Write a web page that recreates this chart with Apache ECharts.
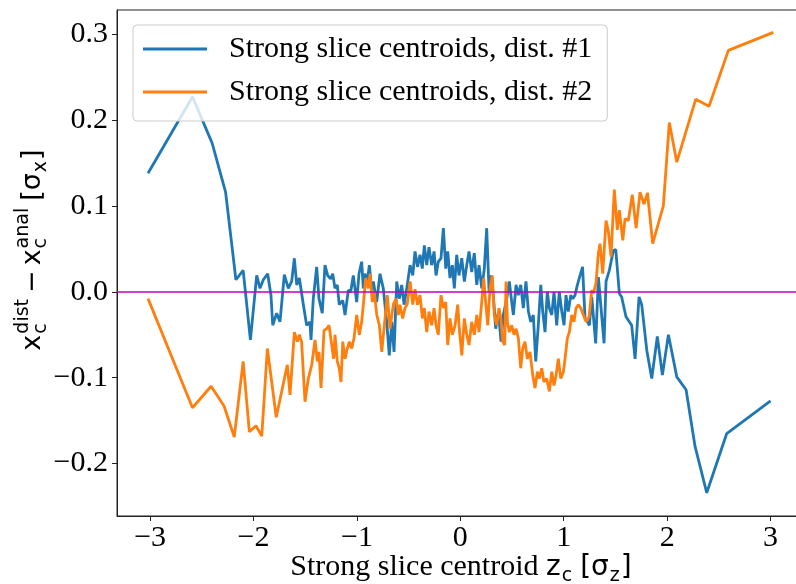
<!DOCTYPE html>
<html>
<head>
<meta charset="utf-8">
<script src="https://cdn.jsdelivr.net/npm/echarts@6/dist/echarts.min.js"></script>
<style>
  html, body { margin: 0; padding: 0; background: #fff; overflow: hidden; width: 796px; height: 584px; }
  /* the plot frame runs a few pixels past the right edge of the page, so the canvas is a little wider */
  #chart { position: absolute; left: 0; top: 0; width: 812px; height: 584px; }
</style>
</head>
<body>
<div id="chart"></div>
<script>
// Centroid offsets x_c^dist - x_c^anal (in sigma_x) against slice centroid z_c (in sigma_z)
const dist1Centroids = [
  [-3.02,0.138],[-2.59,0.227],[-2.40,0.173],[-2.27,0.116],[-2.17,0.014],[-2.10,0.025],[-2.03,-0.056],
  [-1.969,0.019],[-1.937,0.004],[-1.905,0.014],[-1.863,0.021],[-1.831,-0.004],[-1.814,-0.039],[-1.776,-0.025],
  [-1.744,-0.035],[-1.702,0.020],[-1.663,0.004],[-1.631,0.012],[-1.605,0.039],[-1.582,0.008],[-1.557,0.016],
  [-1.518,-0.015],[-1.486,-0.039],[-1.454,-0.035],[-1.444,-0.056],[-1.422,-0.008],[-1.389,0.029],[-1.367,-0.008],
  [-1.335,-0.025],[-1.309,0.031],[-1.283,0.019],[-1.254,0.015],[-1.234,0.021],[-1.212,0.004],[-1.190,0.008],
  [-1.171,-0.015],[-1.137,-0.010],[-1.115,-0.027],[-1.083,0.002],[-1.060,0.000],[-1.035,0.019],[-1.002,-0.012],
  [-0.980,0.021],[-0.954,0.035],[-0.938,0.004],[-0.922,0.021],[-0.899,0.012],[-0.880,0.031],[-0.857,0.002],
  [-0.841,0.012],[-0.809,-0.012],[-0.777,0.021],[-0.745,0.004],[-0.712,-0.035],[-0.687,-0.074],[-0.663,-0.035],
  [-0.641,-0.070],[-0.615,0.012],[-0.590,-0.008],[-0.567,0.008],[-0.544,-0.015],[-0.513,0.008],[-0.486,0.031],
  [-0.460,0.019],[-0.438,0.047],[-0.414,0.029],[-0.390,0.043],[-0.368,0.027],[-0.348,0.054],[-0.325,0.031],
  [-0.303,0.052],[-0.277,0.031],[-0.254,0.047],[-0.235,0.019],[-0.213,0.035],[-0.187,0.039],[-0.164,0.074],
  [-0.141,0.027],[-0.122,0.047],[-0.100,0.016],[-0.077,0.031],[-0.058,0.004],[-0.035,0.043],[-0.013,0.019],
  [0.014,0.039],[0.039,0.012],[0.062,0.031],[0.084,0.047],[0.110,0.023],[0.135,0.045],[0.159,0.008],
  [0.181,0.031],[0.207,0.004],[0.232,0.027],[0.255,0.074],[0.278,0.000],[0.297,0.019],[0.319,-0.004],
  [0.342,-0.043],[0.368,-0.023],[0.394,-0.058],[0.416,-0.027],[0.449,-0.008],[0.474,0.012],[0.497,-0.012],
  [0.513,-0.027],[0.539,0.008],[0.561,-0.004],[0.584,0.008],[0.609,-0.019],[0.635,0.012],[0.658,-0.023],
  [0.681,-0.035],[0.706,-0.027],[0.729,-0.081],[0.754,-0.039],[0.778,0.008],[0.797,-0.023],[0.819,-0.047],
  [0.841,0.000],[0.861,-0.019],[0.884,-0.027],[0.906,0.000],[0.932,-0.039],[0.957,0.000],[0.981,-0.023],
  [1.003,-0.039],[1.022,-0.004],[1.044,-0.023],[1.068,-0.004],[1.087,-0.008],[1.109,-0.004],[1.132,0.008],
  [1.158,0.019],[1.182,0.029],[1.206,-0.031],[1.228,-0.035],[1.248,-0.039],[1.271,-0.006],[1.309,-0.060],
  [1.335,0.017],[1.390,-0.060],[1.409,0.012],[1.441,0.025],[1.480,0.048],[1.503,0.049],[1.538,-0.002],
  [1.560,-0.006],[1.602,-0.029],[1.657,-0.039],[1.690,-0.078],[1.728,-0.006],[1.754,-0.015],[1.803,-0.068],
  [1.851,-0.101],[1.905,-0.052],[1.954,-0.097],[2.012,-0.050],[2.093,-0.099],[2.183,-0.114],[2.270,-0.180],
  [2.383,-0.234],[2.576,-0.165],[3.000,-0.127]
];

const dist2Centroids = [
  [-3.02,-0.008],[-2.59,-0.135],[-2.41,-0.110],[-2.285,-0.133],[-2.186,-0.169],[-2.10,-0.081],[-2.04,-0.163],
  [-1.976,-0.156],[-1.92,-0.168],[-1.866,-0.066],[-1.78,-0.146],[-1.673,-0.085],[-1.647,-0.120],[-1.605,-0.047],
  [-1.576,-0.058],[-1.557,-0.050],[-1.535,-0.058],[-1.502,-0.128],[-1.470,-0.101],[-1.437,-0.085],[-1.405,-0.056],
  [-1.383,-0.081],[-1.367,-0.070],[-1.347,-0.112],[-1.318,-0.045],[-1.292,-0.043],[-1.270,-0.039],[-1.251,-0.041],
  [-1.225,-0.078],[-1.212,-0.050],[-1.190,-0.081],[-1.171,-0.089],[-1.154,-0.105],[-1.137,-0.058],[-1.115,-0.078],
  [-1.093,-0.066],[-1.073,-0.058],[-1.050,-0.066],[-1.028,-0.054],[-1.002,-0.027],[-0.977,-0.050],[-0.954,-0.035],
  [-0.938,-0.015],[-0.915,0.016],[-0.890,0.004],[-0.873,0.021],[-0.851,-0.012],[-0.832,0.000],[-0.808,-0.027],
  [-0.783,-0.039],[-0.760,-0.070],[-0.728,-0.031],[-0.706,-0.004],[-0.680,-0.043],[-0.648,-0.015],[-0.622,-0.008],
  [-0.600,-0.027],[-0.584,-0.015],[-0.558,-0.031],[-0.535,-0.019],[-0.513,-0.014],[-0.486,0.012],[-0.460,-0.015],
  [-0.438,0.003],[-0.414,-0.015],[-0.390,-0.004],[-0.367,-0.031],[-0.348,-0.019],[-0.325,-0.047],[-0.303,-0.023],
  [-0.277,-0.039],[-0.254,-0.019],[-0.235,-0.039],[-0.213,-0.050],[-0.187,-0.004],[-0.164,-0.019],[-0.141,-0.012],
  [-0.122,-0.062],[-0.100,-0.031],[-0.077,-0.050],[-0.051,-0.039],[-0.025,-0.015],[-0.010,-0.043],[0.014,-0.074],
  [0.039,-0.031],[0.062,-0.050],[0.084,-0.062],[0.110,-0.035],[0.135,-0.050],[0.159,-0.027],[0.181,-0.047],
  [0.207,-0.012],[0.226,0.016],[0.245,-0.012],[0.265,-0.039],[0.287,0.004],[0.309,0.019],[0.328,-0.027],
  [0.352,-0.039],[0.374,-0.019],[0.392,-0.031],[0.410,-0.058],[0.429,-0.062],[0.442,0.012],[0.455,-0.035],
  [0.474,-0.047],[0.497,-0.039],[0.519,-0.050],[0.539,-0.043],[0.561,-0.054],[0.584,-0.089],[0.603,-0.066],
  [0.625,-0.058],[0.648,-0.078],[0.674,-0.070],[0.700,-0.097],[0.722,-0.112],[0.745,-0.093],[0.764,-0.101],
  [0.787,-0.089],[0.809,-0.105],[0.835,-0.101],[0.861,-0.116],[0.884,-0.093],[0.906,-0.109],[0.926,-0.097],
  [0.948,-0.078],[0.971,-0.101],[0.997,-0.093],[1.016,-0.074],[1.035,-0.054],[1.054,-0.047],[1.077,-0.027],
  [1.099,-0.035],[1.119,-0.019],[1.141,-0.015],[1.164,-0.019],[1.190,-0.027],[1.216,-0.035],[1.245,-0.029],
  [1.271,0.002],[1.286,-0.002],[1.312,0.010],[1.335,0.045],[1.351,0.056],[1.377,0.021],[1.409,0.083],
  [1.432,0.070],[1.457,0.041],[1.489,0.119],[1.518,0.072],[1.538,0.095],[1.571,0.060],[1.593,0.085],
  [1.625,0.083],[1.663,0.113],[1.700,0.074],[1.738,0.116],[1.776,0.102],[1.810,0.115],[1.860,0.056],
  [1.963,0.100],[2.021,0.197],[2.093,0.151],[2.276,0.224],[2.405,0.216],[2.592,0.281],[3.027,0.302]
];

const seriesNames = ['Strong slice centroids, dist. #1', 'Strong slice centroids, dist. #2'];
const xTicks = [-3, -2, -1, 0, 1, 2, 3];
const yTicks = [-0.2, -0.1, 0.0, 0.1, 0.2, 0.3];

const SERIF = '"Liberation Serif", "Times New Roman", serif';
const SANS = '"DejaVu Sans", sans-serif';

const gridBox = { left: 117, top: 10, width: 688, height: 506 };

// text width measurement for laying out the math-style axis titles
const measureCtx = document.createElement('canvas').getContext('2d');
function textWidth(text, size, family) {
  measureCtx.font = size + 'px ' + family;
  return measureCtx.measureText(text).width;
}

// Lay out a run of text pieces on one baseline; script pieces stack a superscript over a subscript.
function buildMathText(parts) {
  const children = [];
  let cur = 0;
  function put(text, x, baseline, size, family) {
    children.push({
      type: 'text',
      x: x,
      y: baseline - 0.34 * size,
      style: { text: text, font: size + 'px ' + family, fill: '#000', align: 'left', verticalAlign: 'middle' }
    });
  }
  parts.forEach(p => {
    if (p.gap) { cur += p.gap; return; }
    if (p.text !== undefined) {
      put(p.text, cur, 0, p.size, p.family);
      cur += textWidth(p.text, p.size, p.family);
    } else {
      let w = 0;
      if (p.sup) { put(p.sup, cur + 1, -p.supShift, p.size, p.family); w = Math.max(w, textWidth(p.sup, p.size, p.family)); }
      if (p.sub) { put(p.sub, cur + 1, p.subShift, p.size, p.family); w = Math.max(w, textWidth(p.sub, p.size, p.family)); }
      cur += w + 2;
    }
  });
  return { children: children, width: cur };
}

const M = 27, S = 19;
const yTitle = buildMathText([
  { text: 'x', size: M, family: SANS },
  { sup: 'dist', sub: 'c', size: S, family: SANS, supShift: 12, subShift: 6 },
  { gap: 5 },
  { text: '\u2212', size: M, family: SANS },
  { gap: 5 },
  { text: 'x', size: M, family: SANS },
  { sup: 'anal', sub: 'c', size: S, family: SANS, supShift: 12, subShift: 6 },
  { gap: 6 },
  { text: '[\u03c3', size: M, family: SANS },
  { sub: 'x', size: S, family: SANS, subShift: 6 },
  { text: ']', size: M, family: SANS }
]);

const xTitle = buildMathText([
  { text: 'Strong slice centroid ', size: 30, family: SERIF },
  { text: 'z', size: 28, family: SANS },
  { sub: 'c', size: S, family: SANS, subShift: 6 },
  { gap: 7 },
  { text: '[\u03c3', size: 28, family: SANS },
  { sub: 'z', size: S, family: SANS, subShift: 6 },
  { text: ']', size: 28, family: SANS }
]);

function fmtTick(v, digits) {
  const s = Math.abs(v).toFixed(digits);
  return v < -1e-9 ? '\u2212' + s : s;
}

const chart = echarts.init(document.getElementById('chart'), null, { renderer: 'canvas' });

const axisLineStyle = { color: '#222', width: 1 };

chart.setOption({
  animation: false,
  backgroundColor: '#fff',
  grid: Object.assign({ show: true, borderColor: '#222', borderWidth: 1, backgroundColor: 'transparent' }, gridBox),
  xAxis: {
    type: 'value',
    min: -3.32,
    max: 3.333,
    splitLine: { show: false },
    axisLine: { show: true, onZero: false, lineStyle: axisLineStyle },
    axisTick: { show: true, inside: false, length: 5, customValues: xTicks, lineStyle: axisLineStyle },
    axisLabel: {
      customValues: xTicks,
      margin: 7,
      color: '#000',
      fontFamily: SERIF,
      fontSize: 30,
      formatter: v => fmtTick(v, 0)
    }
  },
  yAxis: {
    type: 'value',
    min: -0.261,
    max: 0.328,
    splitLine: { show: false },
    axisLine: { show: true, onZero: false, lineStyle: axisLineStyle },
    axisTick: { show: true, inside: false, length: 5, customValues: yTicks, lineStyle: axisLineStyle },
    axisLabel: {
      customValues: yTicks,
      margin: 9,
      color: '#000',
      fontFamily: SERIF,
      fontSize: 30,
      formatter: v => fmtTick(v, 1)
    }
  },
  legend: {
    data: seriesNames,
    orient: 'vertical',
    left: 133,
    top: 25,
    padding: [9, 15, 14, 10],
    itemGap: 13,
    icon: 'rect',
    itemWidth: 64,
    itemHeight: 3,
    selectedMode: false,
    backgroundColor: 'rgba(255,255,255,0.8)',
    borderColor: '#cccccc',
    borderWidth: 1,
    borderRadius: 4,
    textStyle: { fontFamily: SERIF, fontSize: 30, color: '#000', padding: [0, 0, 0, 17] }
  },
  series: [
    {
      name: seriesNames[0],
      type: 'line',
      data: dist1Centroids,
      showSymbol: false,
      symbol: 'none',
      color: '#1f77b4',
      lineStyle: { color: '#1f77b4', width: 2.8 },
      z: 2
    },
    {
      name: seriesNames[1],
      type: 'line',
      data: dist2Centroids,
      showSymbol: false,
      symbol: 'none',
      color: '#ff7f0e',
      lineStyle: { color: '#ff7f0e', width: 2.8 },
      z: 2,
      markLine: {
        silent: true,
        symbol: ['none', 'none'],
        label: { show: false },
        lineStyle: { color: '#bf00bf', width: 1.5, type: 'solid' },
        data: [{ yAxis: 0 }]
      }
    }
  ],
  graphic: [
    {
      type: 'group',
      x: 42,
      y: 250 + yTitle.width / 2,
      rotation: Math.PI / 2,
      children: yTitle.children
    },
    {
      type: 'group',
      x: gridBox.left + gridBox.width / 2 - xTitle.width / 2,
      y: 577,
      children: xTitle.children
    }
  ]
});
</script>
</body>
</html>
